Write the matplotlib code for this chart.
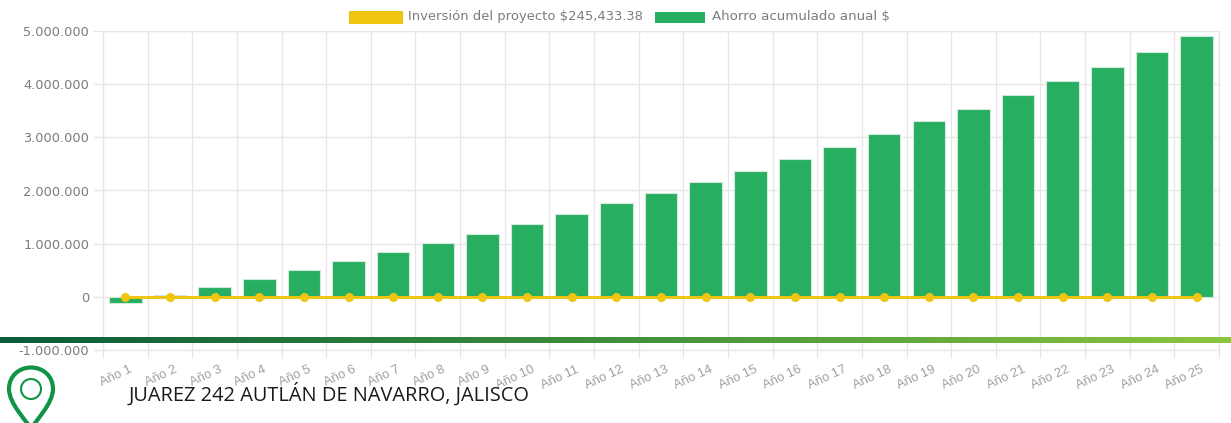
import numpy as np
import matplotlib
matplotlib.use('Agg')
import matplotlib.pyplot as plt
from matplotlib.colors import LinearSegmentedColormap
from matplotlib.patches import Circle, PathPatch, Rectangle
from matplotlib.path import Path
from matplotlib.ticker import FuncFormatter
from matplotlib.transforms import ScaledTranslation

anios = ['Año %d' % i for i in range(1, 26)]
ahorro = [-0.11, 0.04, 0.18, 0.33, 0.50, 0.67, 0.84, 1.01, 1.19, 1.37, 1.56, 1.76, 1.95,
          2.16, 2.37, 2.60, 2.82, 3.06, 3.30, 3.54, 3.79, 4.06, 4.33, 4.61, 4.91]
inversion = [-0.005] * 25
y_ticks = [-1000000, 0, 1000000, 2000000, 3000000, 4000000, 5000000]
serie_inversion = 'Inversión del proyecto $245,433.38'
serie_ahorro = 'Ahorro acumulado anual $'
direccion = 'JUAREZ 242 AUTLÁN DE NAVARRO, JALISCO'

W, H = 1231, 423
VERDE = '#27ae60'
AMARILLO = '#f1c40f'
GRIS = '#7c7c7c'
REJILLA = '#e6e6e6'

plt.rcParams['font.family'] = ['Liberation Sans', 'DejaVu Sans']
fig = plt.figure(figsize=(W / 100, H / 100), dpi=100, facecolor='white')
ax = fig.add_axes([103 / W, 1 - 350 / H, (1219 - 103) / W, (350 - 31) / H])

x = np.arange(len(anios))
ahorro_pesos = np.array(ahorro) * 1e6
ax.bar(x, ahorro_pesos, width=0.73, color=VERDE, edgecolor='#cfe9da', linewidth=0.8, zorder=2)
ax.plot(x, np.array(inversion) * 1e6, color=AMARILLO, lw=2.1, marker='o', ms=5.5, zorder=3)

ax.set_xlim(-0.5, 24.5)
ax.set_ylim(-1000000, 5000000)
ax.set_yticks(y_ticks)
ax.yaxis.set_major_formatter(FuncFormatter(lambda v, p: f'{int(v):,}'.replace(',', '.')))
ax.set_xticks(x)
ax.set_xticklabels(anios, rotation=25, ha='right', rotation_mode='anchor')
ax.set_xticks(np.arange(-0.5, 25), minor=True)

ax.tick_params(axis='y', length=7, width=0.9, color=REJILLA, labelcolor=GRIS, labelsize=9.3, pad=3)
ax.tick_params(axis='x', which='major', length=0, labelcolor='#a0a0a0', labelsize=9.4, pad=10)
ax.tick_params(axis='x', which='minor', length=6, width=0.9, color=REJILLA)
ax.grid(True, axis='y', color=REJILLA, lw=0.9, zorder=0)
ax.grid(True, axis='x', which='minor', color=REJILLA, lw=0.9, zorder=0)
ax.set_axisbelow(True)
for s in ax.spines.values():
    s.set_color(REJILLA)
    s.set_linewidth(0.9)
for lab in ax.get_yticklabels():
    lab.set_fontfamily(['DejaVu Sans'])
for lab in ax.get_xticklabels():
    lab.set_transform(lab.get_transform() + ScaledTranslation(4 / 100, 0, fig.dpi_scale_trans))

# capa en pixeles para leyenda, franja y pin
capa = fig.add_axes([0, 0, 1, 1], zorder=5)
cmap = LinearSegmentedColormap.from_list('franja', ['#0a5c3a', '#3f8f3c', '#8cc63f'])
capa.imshow(np.linspace(0, 1, 512).reshape(1, -1), extent=[0, W, 343, 337], cmap=cmap, aspect='auto')
capa.set_xlim(0, W)
capa.set_ylim(H, 0)
capa.axis('off')

capa.add_patch(Rectangle((349, 10.7), 54, 13.3, facecolor=AMARILLO, edgecolor='none'))
capa.add_patch(Rectangle((655, 11.7), 50, 11, facecolor=VERDE, edgecolor='none'))
capa.text(408, 16.7, serie_inversion, fontsize=9.45, color=GRIS, family=['DejaVu Sans'], va='center', ha='left')
capa.text(712, 16.7, serie_ahorro, fontsize=9.6, color=GRIS, family=['DejaVu Sans'], va='center', ha='left')

pin = Path([(31, 429), (27, 421), (9, 404), (9, 389), (9, 376), (19, 367.5), (31, 367.5),
            (43, 367.5), (53, 376), (53, 389), (53, 404), (35, 421), (31, 429)],
           [Path.MOVETO] + [Path.CURVE4] * 12)
capa.add_patch(PathPatch(pin, facecolor='none', edgecolor='#0f9345', lw=3))
capa.add_patch(Circle((31, 389), 10, facecolor='none', edgecolor='#0f9345', lw=1.5))
capa.text(129, 394, direccion, fontsize=14.4, color='#1a1a1a', family=['Open Sans', 'DejaVu Sans'],
          va='center', ha='left')

fig.savefig('out.png', dpi=100)
